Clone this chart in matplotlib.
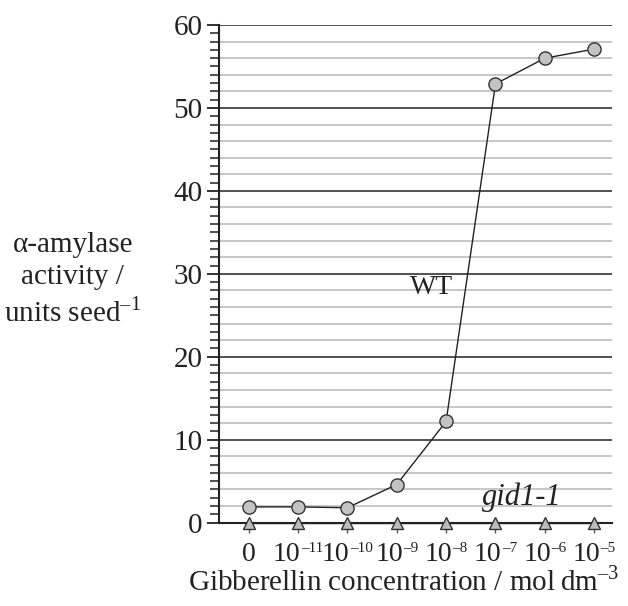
import matplotlib
matplotlib.use("Agg")
import matplotlib.pyplot as plt
from matplotlib.offsetbox import TextArea, HPacker, AnnotationBbox
import numpy as np

plt.rcParams['font.family'] = ['Liberation Serif', 'DejaVu Serif']
plt.rcParams['mathtext.fontset'] = 'custom'
plt.rcParams['mathtext.rm'] = 'Liberation Serif'

# x categories: base and exponent of gibberellin concentration
cat_base = ['0', '10', '10', '10', '10', '10', '10', '10']
cat_exp = ['', '–11', '–10', '–9', '–8', '–7', '–6', '–5']
wt = [1.9, 1.9, 1.8, 4.6, 12.2, 52.9, 56.0, 57.1]
gid1 = [0.0, 0.0, 0.0, 0.0, 0.0, 0.0, 0.0, 0.0]
yticks = [0, 10, 20, 30, 40, 50, 60]

TXT = '#222222'
fig = plt.figure(figsize=(6.28, 6.06), dpi=100)
ax = fig.add_axes([0.3487, 0.1375, 0.6258, 0.8212])
x = np.arange(len(cat_base))

ax.set_xlim(-0.6, 7.36)
ax.set_ylim(0, 60)

# grid lines
for v in range(2, 60, 2):
    if v % 10 != 0:
        ax.axhline(v, color='#bdbdbd', lw=1.2, zorder=1)
for v in yticks[1:]:
    ax.axhline(v, color='#333333', lw=1.2, zorder=1)

ax.plot(x, gid1, color='#222222', lw=1.0, marker='^', markersize=9,
        markerfacecolor='#bdbdbd', markeredgecolor='#333333', markeredgewidth=1.0,
        zorder=3, clip_on=False)
ax.plot(x, wt, color='#222222', lw=1.0, marker='o', markersize=9.5,
        markerfacecolor='#c3c3c3', markeredgecolor='#333333', markeredgewidth=1.0,
        zorder=4, clip_on=False)

for s in ['top', 'right']:
    ax.spines[s].set_visible(False)
ax.spines['left'].set_linewidth(1.5)
ax.spines['bottom'].set_linewidth(1.5)
ax.spines['left'].set_color('#222222')
ax.spines['bottom'].set_color('#222222')

ax.set_yticks(yticks)
ax.set_yticks(range(0, 61, 1), minor=True)
ax.tick_params(axis='y', which='major', direction='out', length=9, width=1.3,
               labelsize=21, pad=3, color='#222222', labelcolor=TXT)
ax.tick_params(axis='y', which='minor', direction='out', length=6.5, width=1.1,
               color='#222222')
ax.set_xticks(x)
ax.set_xticklabels([''] * len(x))
ax.tick_params(axis='x', direction='out', length=7, width=1.0, pad=5,
               color='#555555')

# x tick labels: base with small superscript exponent
for xi, b, e in zip(x, cat_base, cat_exp):
    parts = [TextArea(b, textprops=dict(fontsize=20, color=TXT))]
    if e:
        parts.append(TextArea(e, textprops=dict(fontsize=11, color=TXT)))
    pack = HPacker(children=parts, align='top', pad=0, sep=0)
    ab = AnnotationBbox(pack, (xi, 0), xycoords=ax.get_xaxis_transform(),
                        xybox=(0, -14), boxcoords='offset points',
                        box_alignment=(0.5, 1), frameon=False, pad=0,
                        annotation_clip=False)
    ax.add_artist(ab)

ax.text(3.71, 28.4, 'WT', fontsize=20, ha='center', va='center', color=TXT)
ax.text(5.53, 3.1, 'gid1-1', fontsize=22, ha='center', va='center',
        style='italic', color=TXT)

fig.text(0.116, 0.538, 'α-amylase\nactivity /\nunits seed$^{\\mathregular{–1}}$',
         fontsize=21, ha='center', va='center', linespacing=1.3, color=TXT)
fig.text(0.643, 0.041, 'Gibberellin concentration / mol\u2009dm$^{\\mathregular{–3}}$',
         fontsize=21, ha='center', va='center', color=TXT)

fig.savefig('out.png', dpi=100)
